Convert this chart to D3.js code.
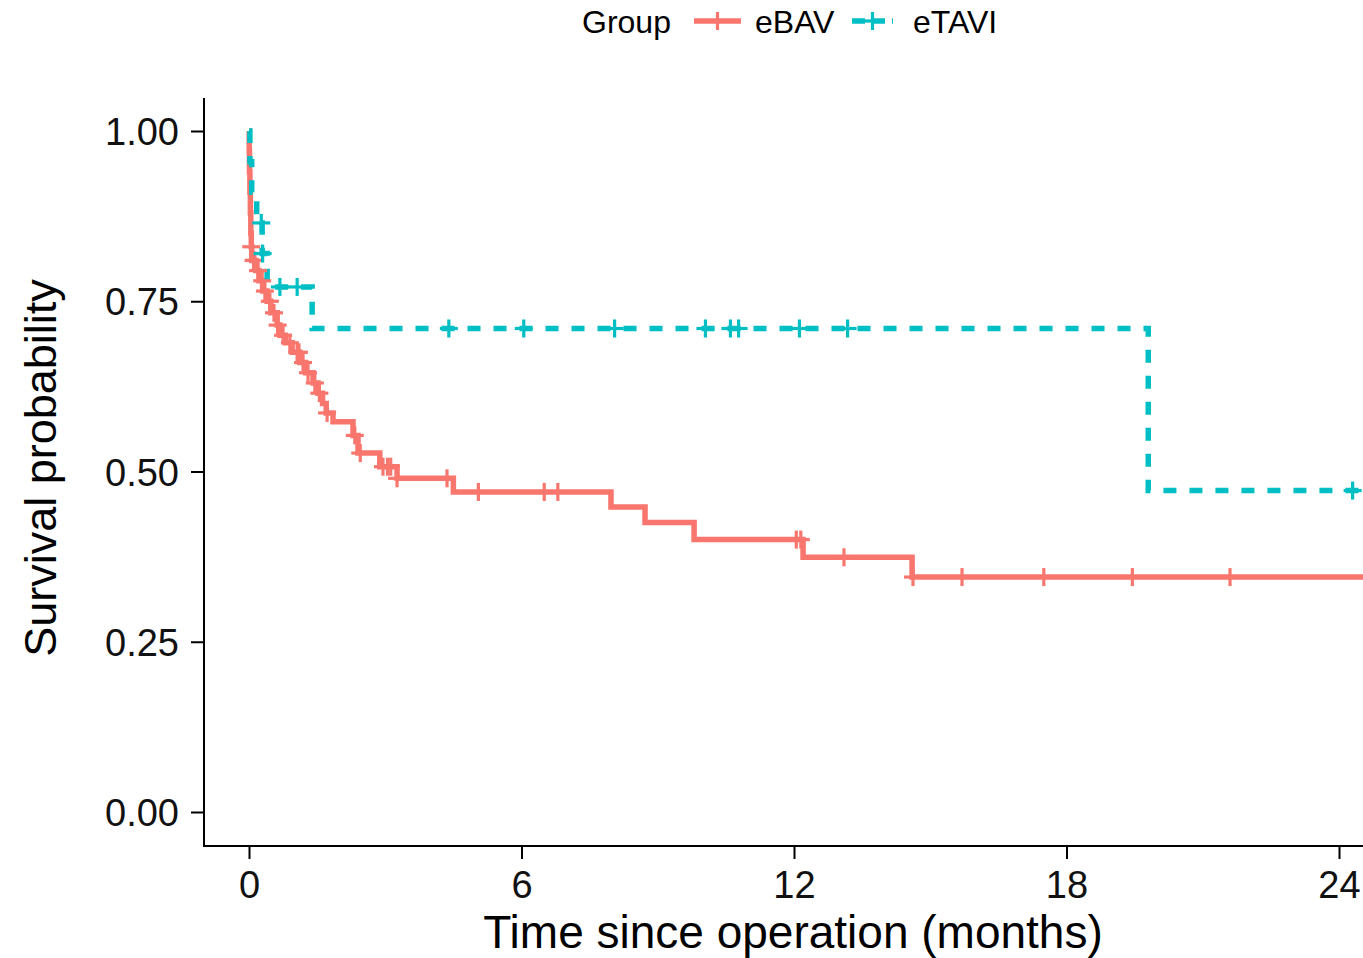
<!DOCTYPE html>
<html>
<head>
<meta charset="utf-8">
<script src="https://cdn.jsdelivr.net/npm/d3@7"></script>
<style>
  html, body { margin: 0; padding: 0; background: #ffffff; overflow: hidden; }
  text { font-family: "Liberation Sans", Arial, sans-serif; }
</style>
</head>
<body>
<script>
// -----------------------------
// Data
// -----------------------------

const groups = ["eBAV", "eTAVI"];

// eBAV: event times (months) and survival after each drop
const ebavEventTime = [0, 0.005, 0.01, 0.02, 0.03, 0.04, 0.05, 0.06, 0.15, 0.22, 0.30, 0.40, 0.48,
  0.62, 0.68, 0.80, 0.95, 1.12, 1.25, 1.41, 1.52, 1.62, 1.70, 1.85, 2.29, 2.40, 2.88, 3.26,
  4.50, 7.97, 8.72, 9.80, 12.20, 14.60, 25.5];
const ebavSurvival = [1.00, 0.97, 0.94, 0.91, 0.88, 0.85, 0.83, 0.81, 0.795, 0.78, 0.765, 0.75, 0.733,
  0.715, 0.70, 0.689, 0.675, 0.66, 0.645, 0.63, 0.615, 0.60, 0.586, 0.573, 0.553, 0.527, 0.507, 0.49,
  0.47, 0.448, 0.425, 0.40, 0.374, 0.345, 0.345];
const ebavCensorTime = [0.05, 0.10, 0.13, 0.20, 0.29, 0.35, 0.46, 0.55, 0.63, 0.75, 0.90, 1.06, 1.10,
  1.19, 1.30, 1.45, 1.55, 1.72, 2.33, 2.45, 2.95, 3.05, 3.12, 3.26, 4.36, 5.05, 6.50, 6.80,
  12.05, 12.15, 13.10, 14.62, 15.70, 17.50, 19.45, 21.60];

// eTAVI
const etaviEventTime = [0, 0.02, 0.06, 0.17, 0.29, 0.40, 1.39, 19.80, 25.5];
const etaviSurvival = [1.00, 0.955, 0.91, 0.865, 0.82, 0.771, 0.71, 0.472, 0.472];
const etaviCensorTime = [0.27, 0.30, 0.68, 1.06, 4.40, 6.05, 8.05, 10.05, 10.60, 10.78, 12.12, 13.18, 24.30];

const xTicks = [0, 6, 12, 18, 24];
const yTicks = [0, 0.25, 0.5, 0.75, 1];

// -----------------------------
// SVG Setup
// -----------------------------

const WIDTH = 1363;
const HEIGHT = 958;
const COLORS = { eBAV: "#F8766D", eTAVI: "#00BFC4" };
const DASH = "13,13";

const svg = d3.select("body")
  .append("svg")
  .attr("width", WIDTH)
  .attr("height", HEIGHT)
  .attr("viewBox", `0 0 ${WIDTH} ${HEIGHT}`);

// panel edges
const PANEL_LEFT = 204;
const PANEL_TOP = 98;
const PANEL_BOTTOM = 846;

const x = d3.scaleLinear().domain([0, 24]).range([249, 1339]);
const y = d3.scaleLinear().domain([0, 1]).range([812, 131]);

// -----------------------------
// Axes
// -----------------------------

const yAxis = d3.axisLeft(y)
  .tickValues(yTicks)
  .tickFormat(d3.format(".2f"))
  .tickSize(13)
  .tickPadding(12);

const gy = svg.append("g")
  .attr("transform", `translate(${PANEL_LEFT},0)`)
  .call(yAxis);
gy.select(".domain").remove();
gy.append("line")
  .attr("x1", 0).attr("x2", 0)
  .attr("y1", PANEL_TOP).attr("y2", PANEL_BOTTOM + 1)
  .attr("stroke", "#000").attr("stroke-width", 2);

const xAxis = d3.axisBottom(x)
  .tickValues(xTicks)
  .tickSize(13)
  .tickPadding(12);

const gx = svg.append("g")
  .attr("transform", `translate(0,${PANEL_BOTTOM})`)
  .call(xAxis);
gx.select(".domain").remove();
gx.append("line")
  .attr("x1", PANEL_LEFT - 1).attr("x2", WIDTH + 20)
  .attr("y1", 0).attr("y2", 0)
  .attr("stroke", "#000").attr("stroke-width", 2);

svg.selectAll(".tick line")
  .attr("stroke", "#000")
  .attr("stroke-width", 2);

svg.selectAll(".tick text")
  .attr("font-size", 38)
  .attr("fill", "#111")
  .style("font-family", "'Liberation Sans', Arial, sans-serif");

gy.selectAll(".tick text").attr("dy", "0.36em");
gx.selectAll(".tick text").attr("dy", "0.72em");

// axis titles
svg.append("text")
  .attr("x", 793)
  .attr("y", 948)
  .attr("text-anchor", "middle")
  .attr("font-size", 46)
  .attr("fill", "#000")
  .text("Time since operation (months)");

svg.append("text")
  .attr("transform", "translate(56,468) rotate(-90)")
  .attr("text-anchor", "middle")
  .attr("font-size", 45)
  .attr("fill", "#000")
  .text("Survival probability");

// -----------------------------
// Survival curves
// -----------------------------

const series = [
  { name: "eBAV", time: ebavEventTime, surv: ebavSurvival, censor: ebavCensorTime, dash: null },
  { name: "eTAVI", time: etaviEventTime, surv: etaviSurvival, censor: etaviCensorTime, dash: DASH }
];

// value of a step function at time t
function survAt(s, t) {
  let v = s.surv[0];
  for (let i = 0; i < s.time.length; i++) {
    if (s.time[i] <= t) v = s.surv[i];
  }
  return v;
}

const line = d3.line()
  .x(d => x(d[0]))
  .y(d => y(d[1]))
  .curve(d3.curveStepAfter);

const plot = svg.append("g");

series.forEach(s => {
  const pts = s.time.map((t, i) => [t, s.surv[i]]);
  plot.append("path")
    .datum(pts)
    .attr("d", line)
    .attr("fill", "none")
    .attr("stroke", COLORS[s.name])
    .attr("stroke-width", 5.5)
    .attr("stroke-dasharray", s.dash);
});

// censor marks ("+")
const ARM = 9;
series.forEach(s => {
  const marks = plot.append("g")
    .attr("stroke", COLORS[s.name])
    .attr("stroke-width", 3.2);
  s.censor.forEach(t => {
    const cx = x(t);
    const cy = y(survAt(s, t));
    marks.append("line").attr("x1", cx - ARM).attr("x2", cx + ARM).attr("y1", cy).attr("y2", cy);
    marks.append("line").attr("x1", cx).attr("x2", cx).attr("y1", cy - ARM).attr("y2", cy + ARM);
  });
});

// -----------------------------
// Legend
// -----------------------------

const legend = svg.append("g");
legend.append("text")
  .attr("x", 582).attr("y", 33)
  .attr("font-size", 32)
  .attr("fill", "#000")
  .text("Group");

const legendItems = [
  { name: groups[0], x0: 694, x1: 741, text: 755 },
  { name: groups[1], x0: 852, x1: 893, text: 913 }
];

legendItems.forEach((d, i) => {
  const c = COLORS[d.name];
  legend.append("line")
    .attr("x1", d.x0).attr("x2", d.x1)
    .attr("y1", 21).attr("y2", 21)
    .attr("stroke", c)
    .attr("stroke-width", 5.5)
    .attr("stroke-dasharray", i === 1 ? "13,7" : null);
  const cx = (d.x0 + d.x1) / 2;
  legend.append("line")
    .attr("x1", cx - ARM).attr("x2", cx + ARM).attr("y1", 21).attr("y2", 21)
    .attr("stroke", c).attr("stroke-width", 3.2);
  legend.append("line")
    .attr("x1", cx).attr("x2", cx).attr("y1", 21 - ARM).attr("y2", 21 + ARM)
    .attr("stroke", c).attr("stroke-width", 3.2);
  legend.append("text")
    .attr("x", d.text).attr("y", 33)
    .attr("font-size", 32)
    .attr("fill", "#000")
    .text(d.name);
});
</script>
</body>
</html>
